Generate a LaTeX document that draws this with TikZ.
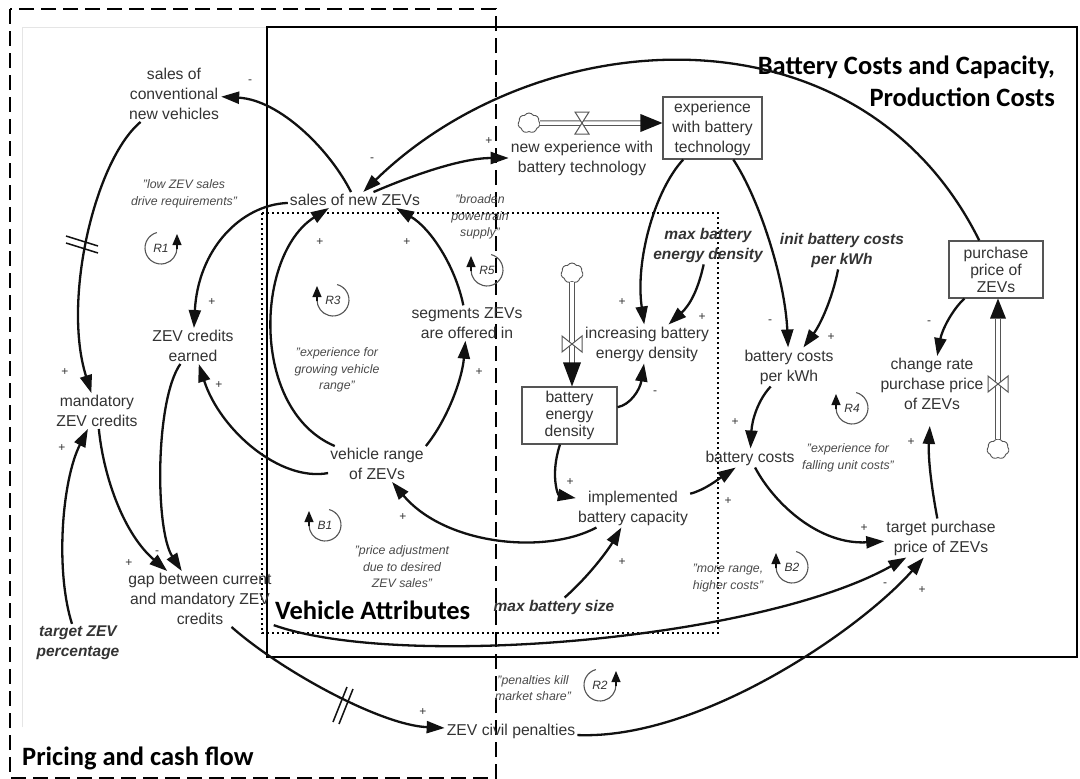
\documentclass[tikz,border=0pt]{standalone}
\usepackage{fontspec}
\setmainfont{Liberation Sans}
\newfontfamily\headfont{Carlito}
\usetikzlibrary{arrows.meta,shapes.symbols}
\definecolor{txt}{HTML}{333333}
\definecolor{qtxt}{HTML}{4A4A4A}
\definecolor{ink}{HTML}{111111}
\definecolor{thin}{HTML}{555555}

\tikzset{
  var/.style={font=\fontsize{15.7}{20}\selectfont, text=txt, align=center, inner sep=2pt},
  param/.style={font=\fontsize{15.5}{20}\selectfont\bfseries\itshape, text=txt, align=center, inner sep=2pt},
  stock/.style={draw=thin, line width=1.1pt, font=\fontsize{15.7}{17}\selectfont, text=txt, align=center, inner sep=0pt},
  quote/.style={font=\fontsize{12.3}{16.5}\selectfont\itshape, text=qtxt, align=center, inner sep=0pt},
  sgn/.style={font=\fontsize{12}{12}\selectfont, text=txt, inner sep=0pt},
  link/.style={draw=ink, line width=2.3pt, -{Triangle[length=18pt,width=12pt]}},
  pipeline/.style={draw=thin, line width=1pt, double=white, double distance=3.5pt},
  valve/.style={draw=thin, line width=1pt, fill=white},
  cloudy/.style={cloud, cloud puffs=7, cloud puff arc=115, aspect=1, minimum width=22pt, minimum height=20pt, draw=thin, line width=0.9pt, inner sep=0pt},
  loopline/.style={draw=thin, line width=1.1pt},
  looptip/.style={draw=ink, line width=1.2pt, -{Triangle[length=11pt,width=9pt]}},
  looplabel/.style={font=\fontsize{12}{12}\selectfont\itshape, text=txt, inner sep=0pt},
  heading/.style={font=\headfont\bfseries\fontsize{26.5}{32}\selectfont, text=black, inner sep=0pt},
  delaymark/.style={draw=ink, line width=1.5pt},
}

% feedback loop markers: arrow on the left or on the right side
\newcommand\fbLoopL[4]{%
  \draw[loopline] (#2,#3) ++(-75:16) arc[start angle=-75, end angle=180, radius=16];
  \draw[looptip] (#2-16,#3+1) -- (#2-16,#3-14);
  \node[looplabel] (#1) at (#2,#3) {#4};}
\newcommand\fbLoopR[4]{%
  \draw[loopline] (#2,#3) ++(-105:16) arc[start angle=-105, end angle=-360, radius=16];
  \draw[looptip] (#2+16,#3+1) -- (#2+16,#3-14);
  \node[looplabel] (#1) at (#2,#3) {#4};}

\begin{document}
\begin{tikzpicture}[x=1pt,y=-1pt]
\useasboundingbox (0,0) rectangle (1080,779);
\fill[white] (0,0) rectangle (1080,779);
\draw[black!10, line width=1pt] (22,727) -- (22,27) -- (268,27);

% sector frames
\draw[line width=2.6pt, dash pattern=on 15pt off 7pt] (10,9) rectangle (496,778);
\draw[line width=2.6pt] (267,27) rectangle (1077,657);
\draw[line width=2.4pt, dash pattern=on 2.4pt off 2.6pt] (262,213) rectangle (718,633);

% sector headings
\node[heading, anchor=east, align=right] (ttl1) at (1055,81) {Battery Costs and Capacity,\\Production Costs};
\node[heading, anchor=west] (ttl2) at (275,610) {Vehicle Attributes};
\node[heading, anchor=west] (ttl3) at (22,758) {Pricing and cash flow};

% variables
\node[var] (conv) at (174,94) {sales of\\conventional\\new vehicles};
\node[var] (sales) at (355,200) {sales of new ZEVs};
\node[var] (newexp) at (582,158) {new experience with\\battery technology};
\node[stock, minimum width=99pt, minimum height=62pt, font=\fontsize{15.7}{20}\selectfont] (expbox) at (712.5,128) {experience\\with battery\\technology};
\node[var] (credits) at (193,346) {ZEV credits\\earned};
\node[var] (mand) at (97,411) {mandatory\\ZEV credits};
\node[var] (gap) at (200,599) {gap between current\\and mandatory ZEV\\credits};
\node[param] (target) at (78,643) {target ZEV\\percentage};
\node[var] (penal) at (511,731) {ZEV civil penalties};
\node[var] (vrange) at (377,464) {vehicle range\\of ZEVs};
\node[var] (segm) at (467,323) {segments ZEVs\\are offered in};
\node[var] (incr) at (647,344) {increasing battery\\energy density};
\node[stock, minimum width=95pt, minimum height=57pt] (bedbox) at (569.5,415.5) {battery\\energy\\density};
\node[var] (impl) at (633,508) {implemented\\battery capacity};
\node[param] (maxsize) at (554,607) {max battery size};
\node[param] (maxdens) at (708,245) {max battery\\energy density};
\node[param] (init) at (842,250) {init battery costs\\per kWh};
\node[var] (perkwh) at (789,367) {battery costs\\per kWh};
\node[var] (bcosts) at (750,458) {battery costs};
\node[var] (change) at (932,384) {change rate\\purchase price\\of ZEVs};
\node[stock, minimum width=94pt, minimum height=57pt] (pbox) at (996,269.5) {purchase\\price of\\ZEVs};
\node[var] (tpp) at (941,538) {target purchase\\price of ZEVs};

% loop descriptions
\node[quote] (q1) at (184,194) {"low ZEV sales\\drive requirements"};
\node[quote] (q2) at (337,370) {"experience for\\growing vehicle\\range"};
\node[quote] (q3) at (480,217) {"broaden\\powertrain\\supply"};
\node[quote] (q4) at (402,567) {"price adjustment\\due to desired\\ZEV sales"};
\node[quote] (q5) at (848,458) {"experience for\\falling unit costs"};
\node[quote] (q6) at (728,578) {"more range,\\higher costs"};
\node[quote] (q7) at (533,688) {"penalties kill\\market share"};

% stock-and-flow pipes
\node[cloudy] (cl1) at (529,123) {};
\node[cloudy] (cl2) at (572,273) {};
\node[cloudy] (cl3) at (998,449) {};
\draw[pipeline] (cl1.east) -- ([xshift=-20pt,yshift=5pt]expbox.west);
\fill[ink] ([yshift=5pt]expbox.west) -- ++(-22,-9) -- ++(0,18) -- cycle;
\draw[valve] (582,123) -- (575,112) -- (589,112) -- cycle;
\draw[valve] (582,123) -- (575,134) -- (589,134) -- cycle;

\draw[pipeline] (cl2.south) -- ([yshift=22pt]bedbox.north -| cl2.south);
\fill[ink] (bedbox.north -| cl2.south) -- ++(-9,-24) -- ++(18,0) -- cycle;
\draw[valve] (572,344) -- (562,336) -- (562,352) -- cycle;
\draw[valve] (572,344) -- (582,336) -- (582,352) -- cycle;

\draw[pipeline] (cl3.north) -- ([yshift=-20pt]pbox.south -| cl3.north);
\fill[ink] (pbox.south -| cl3.north) -- ++(-8,20) -- ++(16,0) -- cycle;
\draw[valve] (998,384) -- (988,376) -- (988,392) -- cycle;
\draw[valve] (998,384) -- (1008,376) -- (1008,392) -- cycle;

% causal links
\draw[link] (pbox.120) .. controls (860,0) and (540,20) .. (sales);
\draw[link] (sales) .. controls (330,150) and (280,100) .. (conv);
\draw[link] (sales) .. controls (420,172) and (465,158) .. (newexp);
\draw[link] (sales) .. controls (240,205) and (198,250) .. (credits);
\draw[link] (conv) .. controls (95,160) and (62,300) .. (mand);
\draw[link] (target) .. controls (55,570) and (62,480) .. (mand);
\draw[link] (mand) .. controls (104,480) and (125,535) .. (gap);
\draw[link] (credits) .. controls (155,400) and (155,530) .. (gap);
\draw[link] (vrange) .. controls (280,482) and (220,430) .. (credits);
\draw[link] (vrange) .. controls (250,410) and (255,255) .. (sales.197);
\draw[link] (vrange.north east) .. controls (447,420) and (462,380) .. (segm);
\draw[link] (segm) .. controls (455,265) and (430,228) .. (sales.-11);
\draw[link] (impl) .. controls (545,555) and (445,545) .. (vrange);
\draw[link] (bedbox) .. controls (550,475) and (558,495) .. (impl);
\draw[link] (maxsize) .. controls (590,575) and (608,550) .. (impl);
\draw[link] (bedbox) .. controls (630,405) and (640,390) .. (incr);
\draw[link] (expbox) .. controls (655,190) and (635,260) .. (incr);
\draw[link] (maxdens) .. controls (698,290) and (690,305) .. (incr);
\draw[link] (expbox) .. controls (760,200) and (785,280) .. (perkwh);
\draw[link] (init) .. controls (832,300) and (820,325) .. (perkwh);
\draw[link] (perkwh) .. controls (758,400) and (752,420) .. (bcosts);
\draw[link] (impl) .. controls (705,490) and (720,478) .. (bcosts);
\draw[link] (bcosts) .. controls (775,505) and (820,545) .. (tpp);
\draw[link, shorten >=14pt] (tpp) .. controls (932,490) and (928,460) .. (change);
\draw[link] (pbox) .. controls (952,310) and (942,330) .. (change);
\draw[link] (gap) .. controls (400,670) and (760,640) .. (tpp);
\draw[link] (penal.base east) .. controls (700,740) and (860,630) .. (tpp);
\draw[link] (gap) .. controls (280,670) and (380,725) .. (penal);

% delay marks
\draw[delaymark] (66,236) -- (98,246) (66,243) -- (98,253);
\draw[delaymark] (333,722) -- (347,687) (339,724) -- (353,689);

% link polarities
\node[sgn] (s1) at (250,82) {-};
\node[sgn] (s2) at (372,160) {-};
\node[sgn] (s3) at (489,141) {+};
\node[sgn] (s4) at (212,302) {+};
\node[sgn] (s5) at (65,372) {+};
\node[sgn] (s6) at (62,448) {+};
\node[sgn] (s7) at (129,563) {+};
\node[sgn] (s8) at (157,553) {-};
\node[sgn] (s9) at (219,385) {+};
\node[sgn] (s10) at (320,242) {+};
\node[sgn] (s11) at (407,242) {+};
\node[sgn] (s12) at (479,372) {+};
\node[sgn] (s13) at (403,517) {+};
\node[sgn] (s14) at (622,302) {+};
\node[sgn] (s15) at (702,317) {+};
\node[sgn] (s16) at (655,393) {-};
\node[sgn] (s17) at (570,482) {+};
\node[sgn] (s18) at (622,562) {+};
\node[sgn] (s19) at (728,501) {+};
\node[sgn] (s20) at (770,322) {-};
\node[sgn] (s21) at (831,337) {+};
\node[sgn] (s22) at (735,422) {+};
\node[sgn] (s23) at (929,323) {-};
\node[sgn] (s24) at (911,442) {+};
\node[sgn] (s25) at (864,528) {+};
\node[sgn] (s26) at (885,585) {-};
\node[sgn] (s27) at (922,590) {+};
\node[sgn] (s28) at (423,712) {+};

% loop identifiers
\fbLoopR{R1}{161}{248}{R1}
\fbLoopL{R3}{333}{300}{R3}
\fbLoopL{R5}{487}{270}{R5}
\fbLoopL{B1}{325}{525}{B1}
\fbLoopL{R4}{852}{408}{R4}
\fbLoopL{B2}{792}{567}{B2}
\fbLoopR{R2}{600}{685}{R2}
\end{tikzpicture}
\end{document}
